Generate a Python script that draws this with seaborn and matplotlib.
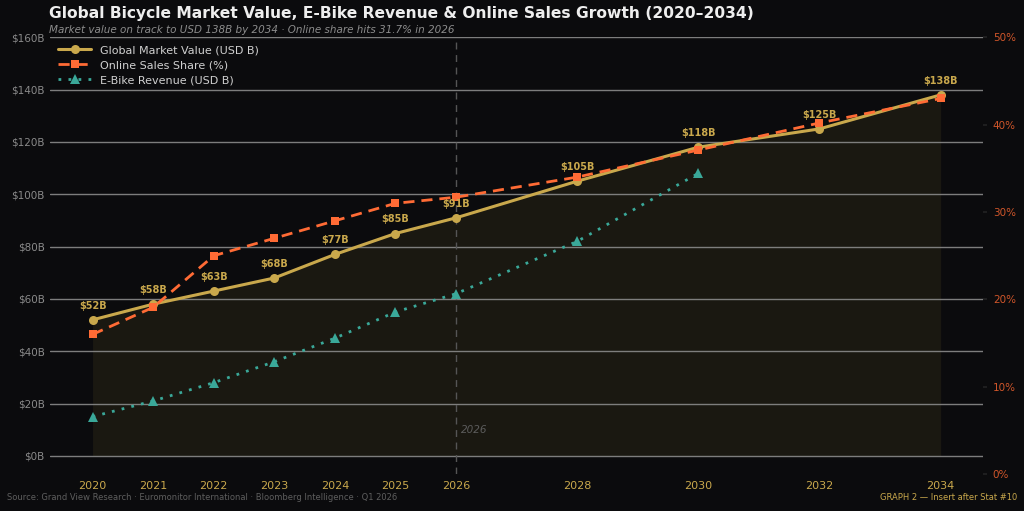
import matplotlib
matplotlib.use("Agg")
import matplotlib.pyplot as plt
import seaborn as sns
import pandas as pd
import numpy as np
from matplotlib.ticker import FuncFormatter

years = [2020, 2021, 2022, 2023, 2024, 2025, 2026, 2028, 2030, 2032, 2034]
market_value = [52, 58, 63, 68, 77, 85, 91, 105, 118, 125, 138]
online_share = [16.0, 19.1, 25.0, 27.0, 29.0, 31.0, 31.7, 34.0, 37.1, 40.2, 43.0]
ebike_years = [2020, 2021, 2022, 2023, 2024, 2025, 2026, 2028, 2030]
ebike_revenue = [15, 21, 28, 36, 45, 55, 62, 82, 108]
left_ticks = [0, 20, 40, 60, 80, 100, 120, 140, 160]
right_ticks = [0, 10, 20, 30, 40, 50]

BG = "#0b0b0d"
GOLD = "#c9a84c"
ORANGE = "#ff6b35"
TEAL = "#3aa899"
GRID = "#8a8a8a"

sns.set_theme(style="dark")
plt.rcParams["font.family"] = ["DejaVu Sans"]

df_m = pd.DataFrame({"year": years, "value": market_value})
df_o = pd.DataFrame({"year": years, "share": online_share})
df_e = pd.DataFrame({"year": ebike_years, "rev": ebike_revenue})

fig = plt.figure(figsize=(10.24, 5.11), dpi=100, facecolor=BG)
ax = fig.add_axes([0.049, 0.072, 0.911, 0.855])
ax.set_facecolor(BG)
ax2 = ax.twinx()

ax.set_xlim(2019.3, 2034.7)
ax.set_ylim(-7, 160)
ax2.set_ylim(0, 50)

# fill under market value
ax.fill_between(years, market_value, 0, color="#2a2516", alpha=0.5, zorder=1, lw=0)

# grid lines (left ticks)
for t in left_ticks:
    ax.axhline(t, color=GRID, lw=1.0, alpha=0.9, zorder=2)

# vertical marker at 2026
ax.axvline(2026, color="#555555", lw=1.0, ls=(0, (5, 4)), zorder=2)
ax.text(2026.08, 10, "2026", color="#5c5c5c", fontsize=7.5, style="italic",
        ha="left", va="center", zorder=3)

sns.lineplot(data=df_m, x="year", y="value", ax=ax, color=GOLD, lw=2.2,
             marker="o", markersize=6.5, markeredgewidth=0,
             label="Global Market Value (USD B)", zorder=5, legend=False)
sns.lineplot(data=df_e, x="year", y="rev", ax=ax, color=TEAL, lw=2.0,
             ls=(0, (1, 2.6)), marker="^", markersize=6.5, markeredgewidth=0,
             label="E-Bike Revenue (USD B)", zorder=4, legend=False)
sns.lineplot(data=df_o, x="year", y="share", ax=ax2, color=ORANGE, lw=2.0,
             ls=(0, (4, 2.5)), marker="s", markersize=6, markeredgewidth=0,
             label="Online Sales Share (%)", zorder=5, legend=False)

for x, v in zip(years, market_value):
    ax2.annotate(f"${v}B", (x, v * 50 / 167 + 7 * 50 / 167), xytext=(0, 6.5),
                 textcoords="offset points",
                 ha="center", va="bottom", color=GOLD, fontsize=7, fontweight="bold",
                 zorder=8)

ax.set_xticks(years)
ax.set_xticklabels([str(y) for y in years])
ax.set_yticks(left_ticks)
ax.yaxis.set_major_formatter(FuncFormatter(lambda v, p: f"${int(v)}B"))
ax2.set_yticks(right_ticks)
ax2.yaxis.set_major_formatter(FuncFormatter(lambda v, p: f"{int(v)}%"))

ax.tick_params(axis="x", colors="#222222", labelcolor=GOLD, labelsize=8, length=3, pad=2)
ax.tick_params(axis="y", colors=BG, labelcolor="#8a8a8a", labelsize=7.5, length=0, pad=4)
ax2.tick_params(axis="y", colors="#222222", labelcolor="#d0562a", labelsize=7.5,
                length=3, pad=4)
ax.set_xlabel("")
ax.set_ylabel("")
ax2.set_ylabel("")
ax.grid(False)
ax2.grid(False)
for a in (ax, ax2):
    for s in a.spines.values():
        s.set_visible(False)

h1, l1 = ax.get_legend_handles_labels()
h2, l2 = ax2.get_legend_handles_labels()
handles = [h1[0], h2[0], h1[1]]
labels = [l1[0], l2[0], l1[1]]
leg = ax.legend(handles, labels, loc="upper left", bbox_to_anchor=(0.0, 1.0),
                frameon=False, fontsize=8, labelcolor="#d0d0d0", borderaxespad=0.3,
                handlelength=3.0, labelspacing=0.45)
leg.set_zorder(10)

fig.text(0.048, 0.973, "Global Bicycle Market Value, E-Bike Revenue & Online Sales Growth (2020\u20132034)",
         color="#eeeeee", fontsize=11.2, fontweight="bold", ha="left", va="center")
fig.text(0.048, 0.942, "Market value on track to USD 138B by 2034 \u00b7 Online share hits 31.7% in 2026",
         color="#8c8c8c", fontsize=7.5, style="italic", ha="left", va="center")
fig.text(0.007, 0.027, "Source: Grand View Research \u00b7 Euromonitor International \u00b7 Bloomberg Intelligence \u00b7 Q1 2026",
         color="#5e5e5e", fontsize=6, ha="left", va="center")
fig.text(0.993, 0.027, "GRAPH 2 \u2014 Insert after Stat #10",
         color=GOLD, fontsize=6, ha="right", va="center")

fig.savefig("out.png", dpi=100, facecolor=BG)
